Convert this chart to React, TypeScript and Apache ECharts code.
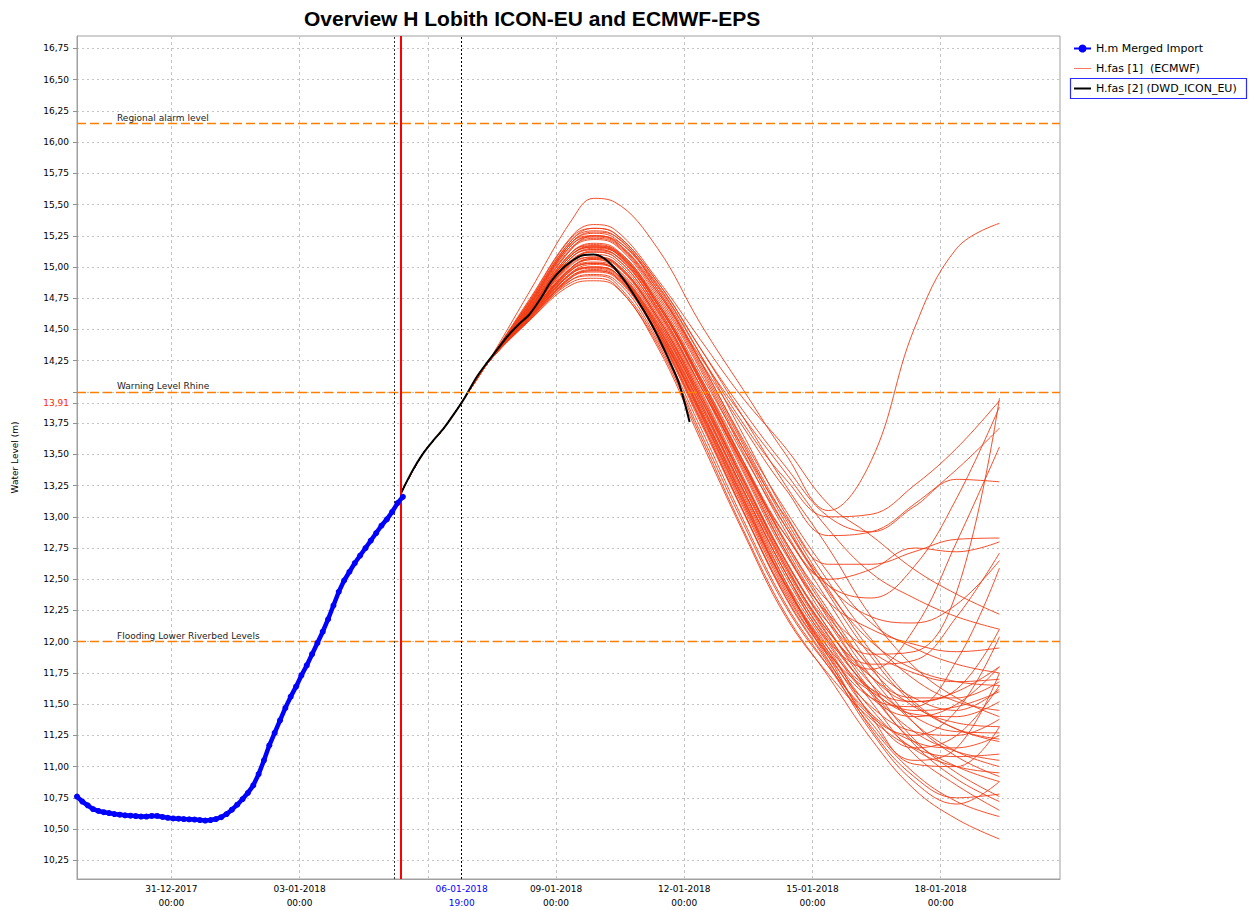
import { useEffect, useRef } from 'react';
import * as echarts from 'echarts';

// ---------- texts ----------
const TITLE = 'Overview H Lobith ICON-EU and ECMWF-EPS';
const Y_NAME = 'Water Level (m)';
const NAME_OBS = 'H.m Merged Import';
const NAME_ECMWF = 'H.fas [1]  (ECMWF)';
const NAME_ICON = 'H.fas [2] (DWD_ICON_EU)';

// ---------- axes ----------
const X_MIN = '2017-12-28 19:00';
const X_MAX = '2018-01-20 19:00';
const Y_MIN = 10.1;
const Y_MAX = 16.85;
const xGridTimes = ['2017-12-31 00:00', '2018-01-03 00:00', '2018-01-06 00:00', '2018-01-09 00:00', '2018-01-12 00:00', '2018-01-15 00:00', '2018-01-18 00:00'];
const xLabelTimes = ['2017-12-31 00:00', '2018-01-03 00:00', '2018-01-06 19:00', '2018-01-09 00:00', '2018-01-12 00:00', '2018-01-15 00:00', '2018-01-18 00:00'];
const yGridValues = [10.25, 10.5, 10.75, 11, 11.25, 11.5, 11.75, 12, 12.25, 12.5, 12.75, 13, 13.25, 13.5, 13.75, 13.91, 14, 14.25, 14.5, 14.75, 15, 15.25, 15.5, 15.75, 16, 16.25, 16.5, 16.75];
const yLabelValues = [10.25, 10.5, 10.75, 11, 11.25, 11.5, 11.75, 12, 12.25, 12.5, 12.75, 13, 13.25, 13.5, 13.75, 13.91, 14.25, 14.5, 14.75, 15, 15.25, 15.5, 15.75, 16, 16.25, 16.5, 16.75];
const T0_VALUE = 13.91;

// ---------- reference lines ----------
const thresholdNames = ['Regional alarm level', 'Warning Level Rhine', 'Flooding Lower Riverbed Levels'];
const thresholdValues = [16.15, 14.0, 12.0];
const importEndTime = '2018-01-05 05:00';
const forecastStartTime = '2018-01-05 09:00';
const forecastT0 = '2018-01-06 19:00';

// ---------- observed (3-hourly) ----------
const obsStart = '2017-12-28 19:00';
const obsStepHours = 3;
const obsValues = [
  10.76, 10.72, 10.69, 10.66, 10.645, 10.635, 10.628, 10.62, 10.615, 10.61,
  10.607, 10.604, 10.6, 10.6, 10.605, 10.605, 10.597, 10.59, 10.585, 10.583,
  10.58, 10.578, 10.576, 10.572, 10.568, 10.572, 10.58, 10.595, 10.62, 10.655,
  10.695, 10.74, 10.79, 10.85, 10.94, 11.05, 11.17, 11.27, 11.37, 11.47,
  11.56, 11.64, 11.73, 11.81, 11.9, 11.99, 12.08, 12.18, 12.29, 12.4,
  12.49, 12.56, 12.63, 12.69, 12.75, 12.81, 12.87, 12.93, 12.98, 13.04,
  13.11, 13.16,
];

// ---------- ICON-EU forecast (6-hourly) ----------
const iconStart = '2018-01-05 09:00';
const iconStepHours = 6;
const iconValues = [
  13.19, 13.36, 13.5, 13.61, 13.71, 13.83, 13.96, 14.11, 14.23, 14.34,
  14.45, 14.54, 14.62, 14.74, 14.88, 14.98, 15.05, 15.095, 15.1, 15.07,
  14.99, 14.88, 14.75, 14.61, 14.45, 14.27, 14.07, 13.76,
];

// ---------- ECMWF-EPS members ----------
const ensTrunkTimes = ['2018-01-05 09:00', '2018-01-05 21:00', '2018-01-06 09:00', '2018-01-06 21:00', '2018-01-07 09:00'];
const ensTrunkValues = [13.19, 13.5, 13.71, 13.96, 14.22];
const ensMemberTimes = ['2018-01-08 09:00', '2018-01-09 09:00', '2018-01-09 21:00', '2018-01-10 09:00', '2018-01-11 09:00', '2018-01-12 09:00', '2018-01-13 09:00', '2018-01-14 09:00', '2018-01-15 09:00', '2018-01-16 09:00', '2018-01-17 09:00', '2018-01-18 09:00', '2018-01-19 09:00'];
const ensMembers: number[][] = [
  [14.8, 15.38, 15.55, 15.52, 15.15, 14.55, 14.02, 13.5, 13.05, 13.45, 14.5, 15.15, 15.35],
  [14.68, 15.15, 15.25, 15.22, 14.85, 14.3, 13.75, 13.3, 13.0, 13.02, 13.25, 13.55, 13.93],
  [14.62, 15.0, 15.06, 15.0, 14.55, 13.95, 13.3, 12.65, 12.15, 11.9, 11.92, 12.4, 13.95],
  [14.65, 15.1, 15.16, 15.12, 14.7, 14.1, 13.45, 12.85, 12.45, 12.35, 12.6, 13.15, 13.88],
  [14.7, 15.2, 15.28, 15.25, 14.82, 14.25, 13.72, 13.22, 12.85, 12.88, 13.1, 13.38, 13.71],
  [14.6, 14.98, 15.03, 14.98, 14.52, 13.9, 13.22, 12.55, 12.0, 11.78, 12.1, 12.8, 13.56],
  [14.72, 15.22, 15.31, 15.27, 14.88, 14.35, 13.85, 13.4, 13.0, 12.88, 13.08, 13.3, 13.28],
  [14.66, 15.12, 15.19, 15.15, 14.74, 14.15, 13.55, 13.0, 12.62, 12.62, 12.72, 12.82, 12.83],
  [14.64, 15.08, 15.14, 15.1, 14.68, 14.05, 13.42, 12.85, 12.5, 12.58, 12.75, 12.72, 12.8],
  [14.61, 15.0, 15.07, 15.03, 14.6, 13.98, 13.3, 12.62, 12.08, 11.82, 11.85, 12.2, 12.71],
  [14.58, 14.92, 14.97, 14.93, 14.48, 13.85, 13.15, 12.45, 11.92, 11.55, 11.48, 11.85, 12.59],
  [14.74, 15.25, 15.34, 15.3, 14.9, 14.42, 13.95, 13.55, 13.1, 12.85, 12.58, 12.38, 12.22],
  [14.7, 15.18, 15.24, 15.2, 14.8, 14.28, 13.8, 13.35, 12.9, 12.55, 12.35, 12.2, 12.1],
  [14.59, 14.95, 15.0, 14.96, 14.5, 13.86, 13.18, 12.48, 11.85, 11.4, 11.25, 11.45, 12.04],
  [14.63, 15.05, 15.12, 15.08, 14.65, 14.05, 13.42, 12.8, 12.32, 12.1, 11.98, 11.92, 11.95],
  [14.67, 15.12, 15.17, 15.13, 14.72, 14.12, 13.5, 12.92, 12.45, 12.2, 12.15, 12.3, 12.65],
  [14.57, 14.88, 14.91, 14.86, 14.38, 13.65, 12.9, 12.22, 11.72, 11.22, 10.82, 10.58, 10.42],
  [14.58, 14.9, 14.94, 14.9, 14.42, 13.72, 12.98, 12.3, 11.8, 11.32, 10.95, 10.72, 10.6],
  [14.6, 14.95, 15.0, 14.96, 14.5, 13.82, 13.1, 12.42, 11.88, 11.3, 10.92, 10.75, 10.78],
  [14.62, 15.0, 15.07, 15.03, 14.58, 13.92, 13.22, 12.55, 12.0, 11.52, 11.1, 10.85, 10.65],
  [14.59, 14.93, 14.97, 14.93, 14.46, 13.78, 13.05, 12.35, 11.82, 11.28, 10.88, 10.7, 10.88],
  [14.64, 15.05, 15.13, 15.1, 14.66, 14.02, 13.32, 12.65, 12.1, 11.6, 11.18, 10.9, 10.72],
  [14.61, 14.98, 15.03, 14.98, 14.54, 13.88, 13.16, 12.48, 11.95, 11.4, 11.02, 11.0, 11.32],
  [14.66, 15.1, 15.17, 15.14, 14.72, 14.1, 13.42, 12.75, 12.18, 11.66, 11.22, 10.95, 10.76],
  [14.6, 14.96, 15.02, 14.98, 14.52, 13.84, 13.12, 12.44, 11.9, 11.42, 11.15, 11.25, 11.65],
  [14.63, 15.04, 15.1, 15.06, 14.62, 13.98, 13.28, 12.6, 12.05, 11.58, 11.2, 11.0, 10.88],
  [14.68, 15.15, 15.22, 15.18, 14.76, 14.18, 13.52, 12.88, 12.32, 11.8, 11.35, 11.08, 10.92],
  [14.59, 14.92, 14.96, 14.92, 14.45, 13.76, 13.04, 12.36, 11.84, 11.35, 11.05, 11.15, 11.75],
  [14.62, 15.02, 15.08, 15.04, 14.6, 13.95, 13.25, 12.58, 12.04, 11.6, 11.28, 11.12, 11.05],
  [14.65, 15.08, 15.15, 15.12, 14.7, 14.08, 13.4, 12.72, 12.15, 11.72, 11.52, 11.62, 12.1],
  [14.57, 14.86, 14.89, 14.85, 14.36, 13.62, 12.88, 12.2, 11.74, 11.38, 11.15, 11.08, 11.1],
  [14.61, 14.99, 15.04, 15.0, 14.56, 13.9, 13.2, 12.52, 11.98, 11.55, 11.4, 11.5, 11.8],
  [14.7, 15.2, 15.27, 15.23, 14.84, 14.25, 13.6, 12.98, 12.42, 11.92, 11.52, 11.3, 11.22],
  [14.58, 14.9, 14.93, 14.88, 14.4, 13.68, 12.95, 12.28, 11.8, 11.42, 11.2, 11.15, 11.25],
  [14.64, 15.06, 15.12, 15.08, 14.64, 14.0, 13.3, 12.64, 12.1, 11.66, 11.4, 11.28, 11.27],
  [14.67, 15.12, 15.18, 15.14, 14.72, 14.12, 13.45, 12.8, 12.25, 11.78, 11.48, 11.35, 11.32],
  [14.6, 14.95, 14.99, 14.95, 14.48, 13.8, 13.08, 12.4, 11.88, 11.48, 11.28, 11.25, 11.38],
  [14.72, 15.22, 15.29, 15.25, 14.86, 14.3, 13.66, 13.02, 12.48, 12.02, 11.7, 11.52, 11.45],
  [14.62, 15.0, 15.06, 15.02, 14.58, 13.93, 13.22, 12.55, 12.02, 11.62, 11.42, 11.4, 11.52],
  [14.66, 15.1, 15.16, 15.13, 14.7, 14.08, 13.38, 12.72, 12.2, 11.8, 11.55, 11.45, 11.62],
  [14.59, 14.93, 14.98, 14.94, 14.47, 13.78, 13.05, 12.38, 11.9, 11.6, 11.45, 11.48, 11.6],
  [14.69, 15.16, 15.23, 15.19, 14.78, 14.2, 13.55, 12.92, 12.4, 12.0, 11.78, 11.68, 11.65],
  [14.63, 15.03, 15.08, 15.04, 14.6, 13.96, 13.26, 12.6, 12.08, 11.72, 11.55, 11.55, 11.68],
  [14.71, 15.2, 15.25, 15.21, 14.82, 14.24, 13.62, 13.05, 12.55, 12.15, 11.95, 11.82, 11.75],
  [14.61, 14.98, 15.03, 14.98, 14.53, 13.86, 13.14, 12.46, 11.95, 11.62, 11.52, 11.6, 11.8],
  [14.65, 15.08, 15.14, 15.1, 14.67, 14.05, 13.36, 12.7, 12.22, 11.92, 11.75, 11.68, 11.7],
  [14.73, 15.24, 15.31, 15.27, 14.88, 14.35, 13.8, 13.25, 12.75, 12.2, 11.8, 11.55, 11.4],
  [14.69, 15.18, 15.25, 15.21, 14.8, 14.22, 13.58, 12.95, 12.38, 11.88, 11.5, 11.3, 11.2],
  [14.66, 15.1, 15.16, 15.12, 14.7, 14.1, 13.44, 12.78, 12.22, 11.72, 11.35, 11.12, 11.0],
  [14.6, 14.96, 15.0, 14.96, 14.5, 13.83, 13.12, 12.45, 11.92, 11.46, 11.14, 11.0, 10.95],
];

// ---------- helpers ----------
const HOUR = 3600 * 1000;
const parseT = (s: string) => {
  const [d, hm] = s.split(' ');
  const [Y, M, D] = d.split('-').map(Number);
  const [h, m] = hm.split(':').map(Number);
  return Date.UTC(Y, M - 1, D, h, m);
};
const pad = (n: number) => (n < 10 ? '0' + n : '' + n);
const fmtDate = (v: number) => {
  const d = new Date(v);
  return `${pad(d.getUTCDate())}-${pad(d.getUTCMonth() + 1)}-${d.getUTCFullYear()}`;
};
const fmtTime = (v: number) => {
  const d = new Date(v);
  return `${pad(d.getUTCHours())}:${pad(d.getUTCMinutes())}`;
};
const fmtY = (v: number) => v.toFixed(2).replace('.', ',');

const FONT = 'DejaVu Sans';
const ENS_COLOR = '#f33c14';

export default function App() {
  const ref = useRef<HTMLDivElement>(null);

  useEffect(() => {
    document.body.style.margin = '0';
    if (!ref.current) return;
    const chart = echarts.init(ref.current, undefined, { renderer: 'svg' });

    const obsData = obsValues.map((v, k) => [parseT(obsStart) + k * obsStepHours * HOUR, v]);
    const iconData = iconValues.map((v, k) => [parseT(iconStart) + k * iconStepHours * HOUR, v]);
    const ensTimes = [...ensTrunkTimes, ...ensMemberTimes].map(parseT);
    const t0 = parseT(forecastT0);

    const ensSeries = ensMembers.map((m) => ({
      type: 'line',
      name: NAME_ECMWF,
      data: [...ensTrunkValues, ...m].map((v, i) => [ensTimes[i], v]),
      smooth: 0.4,
      symbol: 'none',
      silent: true,
      z: 2,
      lineStyle: { color: ENS_COLOR, width: 1, opacity: 0.9 },
      itemStyle: { color: ENS_COLOR },
    }));

    const option: any = {
      animation: false,
      title: {
        text: TITLE,
        left: 299,
        top: 3,
        textStyle: { fontFamily: 'Liberation Sans', fontWeight: 'bold', fontSize: 21, color: '#000' },
      },
      legend: {
        orient: 'vertical',
        left: 1068,
        top: 38,
        itemWidth: 17,
        itemHeight: 10,
        itemGap: 9,
        textStyle: { fontFamily: FONT, fontSize: 11, color: '#000' },
        data: [
          { name: NAME_OBS },
          { name: NAME_ECMWF, icon: 'path://M0,0H17V1H0Z', itemStyle: { color: '#f77a62' } },
          { name: NAME_ICON, icon: 'path://M0,0H17V2H0Z', itemStyle: { color: '#000' } },
        ],
      },
      grid: { left: 77, top: 36, right: 195, bottom: 30, show: true, borderColor: '#a0a0a0', borderWidth: 1 },
      xAxis: {
        type: 'value',
        min: parseT(X_MIN),
        max: parseT(X_MAX),
        axisLine: { show: true, lineStyle: { color: '#a0a0a0' } },
        axisTick: { show: false, customValues: xGridTimes.map(parseT) },
        splitLine: { show: true, lineStyle: { color: '#c4c4c4', type: [3, 3], width: 1 } },
        axisLabel: {
          customValues: xLabelTimes.map(parseT),
          margin: 3,
          fontFamily: FONT,
          fontSize: 9,
          color: '#000',
          lineHeight: 14,
          formatter: (v: number) =>
            v === t0
              ? `{b|${fmtDate(v)}}\n{b|${fmtTime(v)}}`
              : `${fmtDate(v)}\n${fmtTime(v)}`,
          rich: { b: { color: '#0000ff', fontFamily: FONT, fontSize: 9, lineHeight: 14 } },
        },
      },
      yAxis: {
        type: 'value',
        min: Y_MIN,
        max: Y_MAX,
        name: Y_NAME,
        nameLocation: 'middle',
        nameGap: 58,
        nameTextStyle: { fontFamily: FONT, fontSize: 9, color: '#000' },
        axisLine: { show: true, lineStyle: { color: '#a0a0a0' } },
        axisTick: { show: true, length: 4, customValues: yGridValues, lineStyle: { color: '#909090' } },
        splitLine: { show: true, lineStyle: { color: '#c4c4c4', type: [2, 3], width: 1 } },
        axisLabel: {
          customValues: yLabelValues,
          margin: 8,
          fontFamily: FONT,
          fontSize: 9,
          color: '#000',
          formatter: (v: number) => (Math.abs(v - T0_VALUE) < 1e-6 ? `{r|${fmtY(v)}}` : fmtY(v)),
          rich: { r: { color: '#ff2a00', fontFamily: FONT, fontSize: 9 } },
        },
      },
      graphic: [
        {
          type: 'rect',
          shape: { x: 1070.5, y: 78.5, width: 176, height: 20 },
          style: { fill: 'none', stroke: '#2a2aff', lineWidth: 1.2 },
          z: 100,
        },
      ],
      series: [
        {
          type: 'line',
          name: '__markers',
          data: [],
          z: 1,
          silent: true,
          markLine: {
            silent: true,
            symbol: ['none', 'none'],
            animation: false,
            data: [
              ...thresholdValues.map((v, i) => ({
                yAxis: v,
                lineStyle: { color: '#ff8000', type: [9, 4], width: 1.3 },
                label: {
                  show: true,
                  position: 'insideStartTop',
                  distance: [40, 1],
                  formatter: thresholdNames[i],
                  fontFamily: FONT,
                  fontSize: 9,
                  color: '#222',
                },
              })),
              {
                xAxis: parseT(importEndTime),
                lineStyle: { color: '#333', type: [2, 2], width: 1 },
                label: { show: false },
              },
              {
                xAxis: parseT(forecastStartTime),
                lineStyle: { color: '#ff0000', type: 'solid', width: 2, opacity: 1 },
                label: { show: false },
              },
              {
                xAxis: t0,
                lineStyle: { color: '#000', type: [2, 2], width: 1 },
                label: { show: false },
              },
            ],
          },
        },
        ...ensSeries,
        {
          type: 'line',
          name: NAME_ICON,
          data: iconData,
          smooth: 0.3,
          symbol: 'none',
          z: 4,
          lineStyle: { color: '#000', width: 2 },
          itemStyle: { color: '#000' },
        },
        {
          type: 'line',
          name: NAME_OBS,
          data: obsData,
          symbol: 'circle',
          symbolSize: 6,
          showSymbol: true,
          z: 5,
          lineStyle: { color: '#0000ff', width: 4.5 },
          itemStyle: { color: '#0000ff' },
        },
      ],
    };

    chart.setOption(option);
    return () => chart.dispose();
  }, []);

  return <div ref={ref} style={{ width: 1255, height: 910 }} />;
}
